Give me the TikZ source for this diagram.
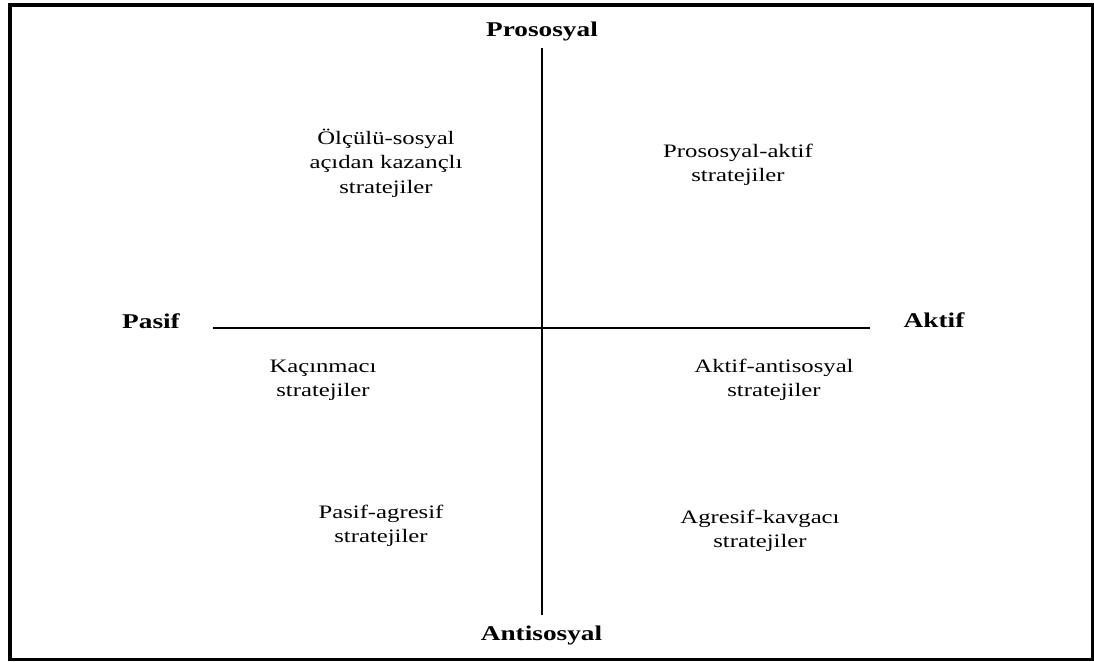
\documentclass[tikz,border=0pt]{standalone}
\usepackage{fontspec}
\setmainfont{Liberation Serif}[FakeStretch=1.3]
\tikzset{
  frame/.style={draw=black, line width=3.5pt},
  axis/.style={draw=black, line width=1.8pt},
  pole/.style={anchor=base, inner sep=0pt, font=\fontsize{21}{25}\selectfont\bfseries},
  quad/.style={anchor=base, inner sep=0pt, font=\fontsize{19}{24.5}\selectfont}
}
\newcommand{\twol}[1]{\begin{tabular}[t]{@{}c@{}}#1\end{tabular}}
\begin{document}
\begin{tikzpicture}[x=1pt,y=-1pt]
\useasboundingbox (0,0) rectangle (1094,661);
\draw[frame] (10,5) rectangle (1092.5,659.5);
% axis end points
\coordinate (top) at (542,48);
\coordinate (bot) at (542,615);
\coordinate (lft) at (213,328);
\coordinate (rgt) at (870,328);
\draw[axis] (top) -- (bot);
\draw[axis] (lft) -- (rgt);
% poles
\node[pole] (pro) at (542,37) {Prososyal};
\node[pole] (anti) at (541.5,640) {Antisosyal};
\node[pole] (pas) at (151,328) {Pasif};
\node[pole] (akt) at (934,327) {Aktif};
% quadrant labels
\node[quad] (olc) at (386,144) {\twol{Ölçülü-sosyal\\açıdan kazançlı\\stratejiler}};
\node[quad] (proakt) at (738,157) {\twol{Prososyal-aktif\\stratejiler}};
\node[quad] (kac) at (323,372) {\twol{Kaçınmacı\\stratejiler}};
\node[quad] (aktanti) at (774,372) {\twol{Aktif-antisosyal\\stratejiler}};
\node[quad] (pasagr) at (381,518) {\twol{Pasif-agresif\\stratejiler}};
\node[quad] (agrkav) at (760,523) {\twol{Agresif-kavgacı\\stratejiler}};
\end{tikzpicture}
\end{document}
